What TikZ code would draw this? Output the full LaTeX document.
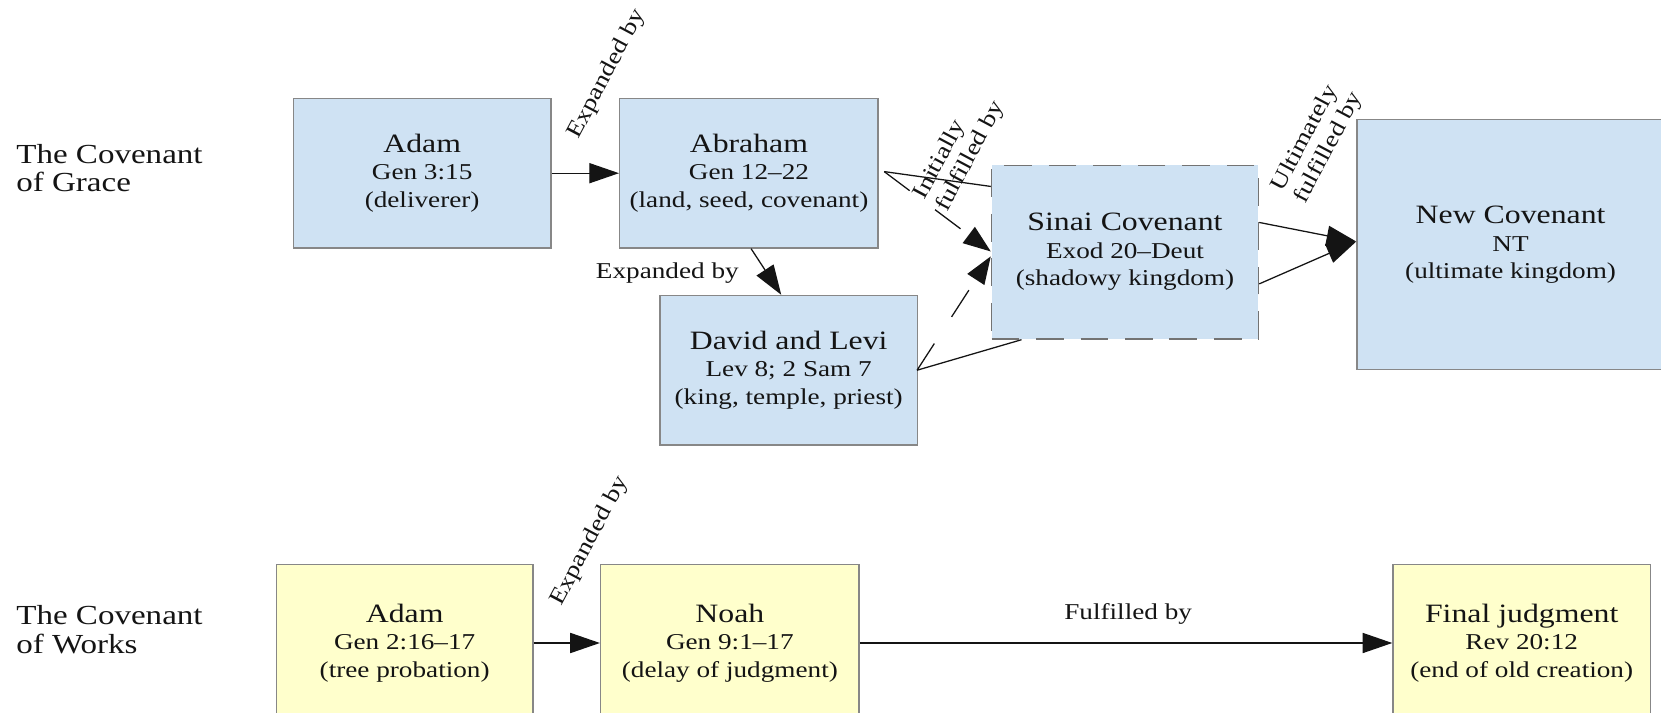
\documentclass[tikz,border=0pt]{standalone}
\usepackage{fontspec}
\setmainfont{Liberation Serif}[FakeStretch=1.2]
\usetikzlibrary{arrows.meta}
\definecolor{gblue}{RGB}{207,226,243}
\definecolor{wyel}{RGB}{255,255,204}
\definecolor{bord}{RGB}{135,135,135}
\definecolor{ink}{RGB}{20,20,20}
\newcommand\ttl[1]{{\fontsize{12.5}{13}\selectfont #1}}
\tikzset{
  box/.style={draw=bord, line width=0.7pt, rectangle, inner sep=0pt, align=center,
    text=ink, font=\fontsize{10.7}{13}\selectfont},
  gbox/.style={box, fill=gblue},
  wbox/.style={box, fill=wyel},
  arr/.style={-{Triangle[length=14pt,width=9.5pt]}, line width=0.6pt, draw=ink},
  plain/.style={line width=0.6pt, draw=ink},
  dleg/.style={-{Triangle[length=13pt,width=9.5pt]}, line width=0.6pt, draw=ink, dash pattern=on 15pt off 15pt},
  lbl/.style={inner sep=0pt, text=ink, font=\fontsize{10.7}{12}\selectfont},
  side/.style={inner sep=0pt, text=ink, align=left, anchor=west, font=\fontsize{13}{13.5}\selectfont}
}
\begin{document}
\begin{tikzpicture}[x=0.5pt,y=-0.5pt]
\useasboundingbox (0,0) rectangle (1568,673);
\fill[white] (0,0) rectangle (1568,673);

% side labels
\node[side] (grace) at (15,158.5) {The Covenant\\of Grace};
\node[side] (works) at (15,594.5) {The Covenant\\of Works};

% grace boxes
\node[gbox, minimum width=121.5pt, minimum height=70.5pt] (adamg) at (398.5,163.5)
  {\ttl{Adam}\\Gen 3:15\\(deliverer)};
\node[gbox, minimum width=122pt, minimum height=70.5pt] (abr) at (707,163.5)
  {\ttl{Abraham}\\Gen 12--22\\(land, seed, covenant)};
\node[gbox, minimum width=121.5pt, minimum height=70.5pt] (dav) at (744.5,349.5)
  {\ttl{David and Levi}\\Lev 8; 2 Sam 7\\(king, temple, priest)};
\node[gbox, draw=bord!85!black, dash pattern=on 13pt off 8pt, minimum width=126pt, minimum height=82pt] (sinai) at (1062,238)
  {\ttl{Sinai Covenant}\\Exod 20--Deut\\(shadowy kingdom)};
\node[gbox, minimum width=145pt, minimum height=118pt] (newc) at (1426,231)
  {\ttl{New Covenant}\\NT\\(ultimate kingdom)};

% works boxes
\node[wbox, minimum width=121pt, minimum height=74pt] (adamw) at (382,607)
  {\ttl{Adam}\\Gen 2:16--17\\(tree probation)};
\node[wbox, minimum width=122pt, minimum height=74pt] (noah) at (689,607)
  {\ttl{Noah}\\Gen 9:1--17\\(delay of judgment)};
\node[wbox, minimum width=121.5pt, minimum height=74pt] (final) at (1436.5,607)
  {\ttl{Final judgment}\\Rev 20:12\\(end of old creation)};

% grace connectors
\draw[arr] (adamg) -- (abr);
\draw[arr] ([xshift=1pt]abr.south) -- ([xshift=-3.5pt]dav.north);

\coordinate (va) at ([xshift=2.5pt,yshift=0.75pt]abr.east);
\coordinate (ta) at ([yshift=31pt]sinai.west);
\coordinate (tip1) at ([yshift=0.3pt]sinai.west);
\draw[plain] (va) -- (ta);
\draw[dleg] (va) -- (tip1);

\coordinate (vd) at ([xshift=-0.5pt]dav.east);
\coordinate (td) at ([xshift=14.5pt]sinai.south west);
\coordinate (tip2) at ([yshift=-2pt]sinai.west);
\draw[plain] (vd) -- (td);
\draw[dleg] (vd) -- (tip2);

\coordinate (tipn) at ([yshift=1.5pt]newc.west);
\draw[arr] ([yshift=14pt]sinai.east) -- (tipn);
\draw[arr] ([yshift=-15pt]sinai.east) -- (tipn);

% works connectors
\draw[arr] (adamw) -- (noah);
\draw[arr] (noah) -- (final);

% labels
\node[lbl, rotate=62] (l1) at (573,70) {Expanded by};
\node[lbl] (l2) at (630,258) {Expanded by};
\node[lbl, rotate=62, align=left] (l3) at (906,142) {Initially\\fulfilled by};
\node[lbl, rotate=62, align=left] (l4) at (1244,134) {Ultimately\\fulfilled by};
\node[lbl, rotate=62] (l5) at (557,511) {Expanded by};
\node[lbl] (l6) at (1065,580) {Fulfilled by};
\end{tikzpicture}
\end{document}
